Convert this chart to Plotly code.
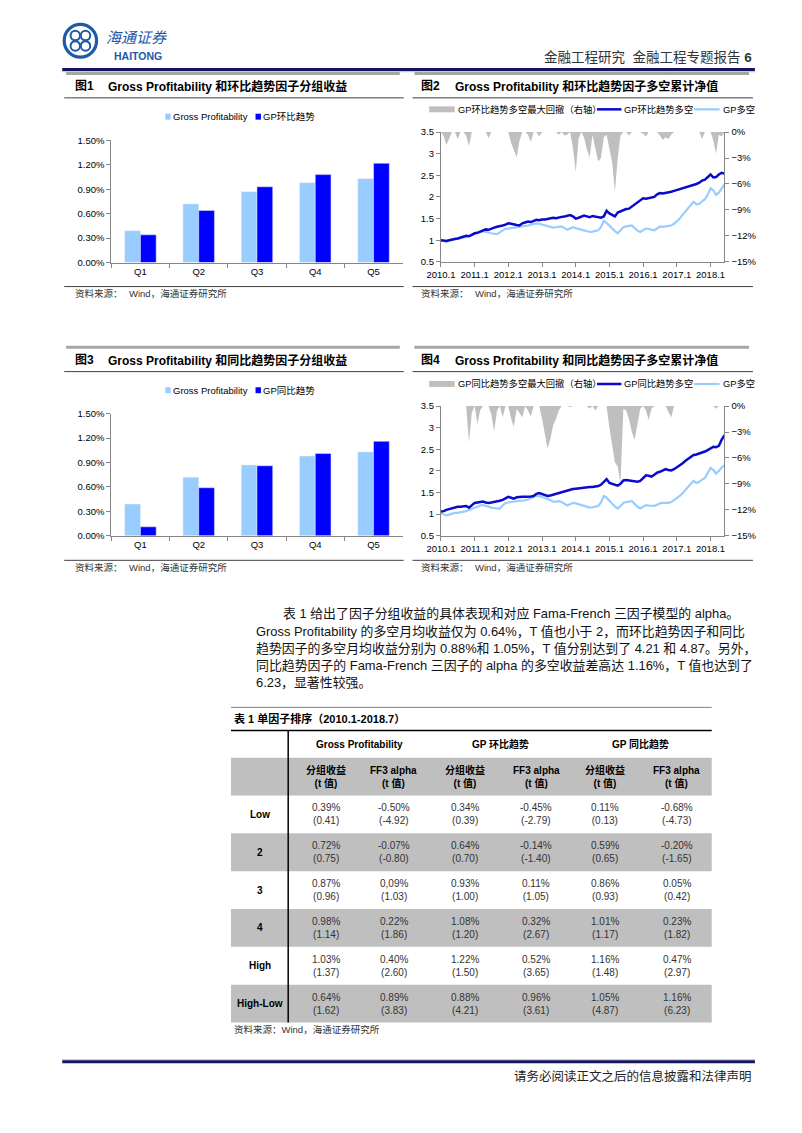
import plotly.graph_objects as go
import pandas as pd

# The page body adds an 8px margin, so the figure is sized to fit the
# 802x1133 window; all positions below are in window pixels.
W, H = 794, 1109
OFF = 8
FONT = "Liberation Sans, Arial, Noto Sans CJK SC, sans-serif"

# ---------------- data ----------------
quintiles = ["Q1", "Q2", "Q3", "Q4", "Q5"]
gp_group = [0.39, 0.72, 0.87, 0.98, 1.03]
hb_group = [0.34, 0.64, 0.93, 1.08, 1.22]   # GP 环比趋势
tb_group = [0.11, 0.59, 0.86, 1.01, 1.16]   # GP 同比趋势

months = pd.date_range("2010-01-01", periods=102, freq="MS")
year_ticks = [f"{y}-01-01" for y in range(2010, 2019)]
year_labels = [f"{y}.1" for y in range(2010, 2019)]

hb_nav = [1.00, 0.99, 0.98, 1.00, 1.02, 1.03, 1.04, 1.06, 1.07, 1.10,
          1.09, 1.13, 1.16, 1.17, 1.19, 1.22, 1.25, 1.24, 1.27, 1.29,
          1.31, 1.32, 1.34, 1.36, 1.39, 1.38, 1.36, 1.35, 1.34, 1.39,
          1.41, 1.43, 1.42, 1.45, 1.47, 1.46, 1.48, 1.48, 1.49, 1.50,
          1.52, 1.51, 1.53, 1.54, 1.55, 1.56, 1.58, 1.55, 1.50, 1.52,
          1.55, 1.57, 1.55, 1.53, 1.56, 1.55, 1.53, 1.52, 1.55, 1.68,
          1.62, 1.58, 1.55, 1.64, 1.67, 1.69, 1.72, 1.73, 1.78, 1.82,
          1.88, 1.93, 1.97, 1.96, 1.97, 1.98, 2.00, 2.06, 2.09, 2.08,
          2.09, 2.10, 2.12, 2.14, 2.16, 2.18, 2.19, 2.21, 2.23, 2.25,
          2.27, 2.30, 2.33, 2.38, 2.40, 2.46, 2.52, 2.45, 2.46, 2.52,
          2.56, 2.54]
gp_nav_a = [1.01, 0.99, 0.97, 0.99, 1.01, 1.03, 1.03, 1.05, 1.06, 1.07,
            1.10, 1.13, 1.15, 1.17, 1.20, 1.21, 1.19, 1.17, 1.16, 1.15,
            1.14, 1.18, 1.23, 1.27, 1.27, 1.28, 1.29, 1.29, 1.30, 1.31,
            1.32, 1.34, 1.36, 1.37, 1.39, 1.38, 1.36, 1.34, 1.32, 1.31,
            1.29, 1.30, 1.31, 1.32, 1.28, 1.24, 1.27, 1.30, 1.28, 1.26,
            1.25, 1.24, 1.22, 1.19, 1.20, 1.22, 1.23, 1.30, 1.45, 1.40,
            1.33, 1.27, 1.21, 1.16, 1.22, 1.30, 1.32, 1.33, 1.34, 1.28,
            1.22, 1.19, 1.23, 1.27, 1.26, 1.24, 1.23, 1.27, 1.32, 1.31,
            1.32, 1.32, 1.34, 1.38, 1.43, 1.50, 1.58, 1.66, 1.74, 1.82,
            1.89, 1.83, 1.84, 1.90, 1.95, 2.05, 2.20, 2.15, 2.05, 2.10,
            2.20, 2.29]
hb_dd = [0, -0.5, -1.5, -0.8, 0, 0, -0.8, 0, 0, -0.4,
         -1.6, 0, 0, 0, 0, 0, 0, -0.7, 0, 0,
         0, 0, 0, 0, 0, -1.3, -2.2, -2.9, -1.0, 0,
         0, -0.3, -1.1, 0, 0, -0.5, 0, 0, 0, 0,
         0, 0, -0.3, 0, -0.4, -0.3, 0, -1.8, -4.6, -0.8,
         0, -0.6, -2.0, -2.9, -0.3, -1.8, -3.4, -3.0, -0.6, -0.3,
         -2.2, -3.6, -6.9, -3.0, -0.4, 0, 0, -0.4, 0, 0,
         0, 0, -0.2, -0.5, 0, 0, 0, 0, -0.4, -0.9,
         -0.6, -0.8, -0.3, 0, 0, 0, 0, 0, 0, 0,
         0, 0, 0, -0.8, 0, 0, 0, -1.0, -2.5, -0.3,
         -0.5, 0]

tb_nav = [1.06, 1.07, 1.10, 1.12, 1.14, 1.16, 1.17, 1.17, 1.18, 1.19,
          1.15, 1.21, 1.26, 1.27, 1.28, 1.29, 1.27, 1.26, 1.27, 1.28,
          1.29, 1.31, 1.33, 1.36, 1.40, 1.38, 1.36, 1.39, 1.40, 1.40,
          1.40, 1.40, 1.41, 1.42, 1.47, 1.49, 1.46, 1.44, 1.42, 1.43,
          1.45, 1.47, 1.49, 1.51, 1.53, 1.55, 1.57, 1.58, 1.59, 1.60,
          1.61, 1.61, 1.62, 1.63, 1.63, 1.64, 1.65, 1.68, 1.75, 1.81,
          1.72, 1.70, 1.68, 1.66, 1.70, 1.78, 1.79, 1.78, 1.76, 1.76,
          1.75, 1.77, 1.84, 1.90, 1.89, 1.87, 1.91, 1.96, 1.98, 2.01,
          2.04, 2.02, 2.01, 2.04, 2.08, 2.12, 2.17, 2.23, 2.28, 2.34,
          2.37, 2.38, 2.40, 2.42, 2.45, 2.48, 2.52, 2.56, 2.55, 2.58,
          2.72, 2.83]
gp_nav_b = [1.02, 0.99, 0.97, 0.99, 1.01, 1.03, 1.03, 1.05, 1.06, 1.07,
            1.10, 1.12, 1.15, 1.17, 1.20, 1.21, 1.19, 1.16, 1.15, 1.14,
            1.13, 1.13, 1.20, 1.26, 1.27, 1.28, 1.30, 1.30, 1.31, 1.31,
            1.32, 1.34, 1.37, 1.40, 1.43, 1.42, 1.40, 1.38, 1.35, 1.32,
            1.29, 1.29, 1.30, 1.28, 1.24, 1.20, 1.23, 1.26, 1.25, 1.23,
            1.21, 1.20, 1.18, 1.15, 1.16, 1.18, 1.19, 1.27, 1.42, 1.38,
            1.30, 1.24, 1.18, 1.13, 1.19, 1.26, 1.28, 1.29, 1.30, 1.24,
            1.17, 1.13, 1.18, 1.21, 1.20, 1.19, 1.19, 1.22, 1.25, 1.26,
            1.26, 1.26, 1.28, 1.32, 1.37, 1.42, 1.48, 1.55, 1.63, 1.70,
            1.77, 1.72, 1.75, 1.80, 1.84, 1.95, 2.07, 2.02, 1.94, 2.00,
            2.08, 2.13]
tb_dd = [0, 0, 0, 0, 0, 0, 0, 0, 0, 0,
         -4.2, -0.8, 0, -2.1, -0.5, 0, 0, 0, -1.0, -2.9,
         -0.5, 0, -1.3, 0, 0, -1.5, -2.4, -0.3, -0.8, -1.3,
         0, -0.5, -1.2, 0, 0, 0, -1.5, -3.5, -4.9, -3.8,
         -2.2, -1.5, -0.5, 0, 0, 0, -0.1, 0, 0, 0,
         0, 0, 0, -0.3, 0, -0.5, 0, 0, 0, 0,
         -2.5, -4.7, -6.5, -7.0, -8.9, -0.3, -0.5, -1.5, -3.0, -3.9,
         -2.0, -0.3, 0, -0.5, -1.6, -0.3, 0, 0, 0, 0,
         0, -0.7, -1.3, 0, 0, 0, 0, 0, 0, 0,
         0, 0, 0, 0, 0, 0, 0, 0, -0.3, 0,
         0, 0]

# table 1
row_labels = ["Low", "2", "3", "4", "High", "High-Low"]
gp_ret = ["0.39%", "0.72%", "0.87%", "0.98%", "1.03%", "0.64%"]
gp_ret_t = ["(0.41)", "(0.75)", "(0.96)", "(1.14)", "(1.37)", "(1.62)"]
gp_ff3 = ["-0.50%", "-0.07%", "0,09%", "0.22%", "0.40%", "0.89%"]
gp_ff3_t = ["(-4.92)", "(-0.80)", "(1.03)", "(1.86)", "(2.60)", "(3.83)"]
hb_ret = ["0.34%", "0.64%", "0.93%", "1.08%", "1.22%", "0.88%"]
hb_ret_t = ["(0.39)", "(0.70)", "(1.00)", "(1.20)", "(1.50)", "(4.21)"]
hb_ff3 = ["-0.45%", "-0.14%", "0.11%", "0.32%", "0.52%", "0.96%"]
hb_ff3_t = ["(-2.79)", "(-1.40)", "(1.05)", "(2.67)", "(3.65)", "(3.61)"]
tb_ret = ["0.11%", "0.59%", "0.86%", "1.01%", "1.16%", "1.05%"]
tb_ret_t = ["(0.13)", "(0.65)", "(0.93)", "(1.17)", "(1.48)", "(4.87)"]
tb_ff3 = ["-0.68%", "-0.20%", "0.05%", "0.23%", "0.47%", "1.16%"]
tb_ff3_t = ["(-4.73)", "(-1.65)", "(0.42)", "(1.82)", "(2.97)", "(6.23)"]
group_heads = ["Gross Profitability", "GP 环比趋势", "GP 同比趋势"]

paragraph = [
    "表 1 给出了因子分组收益的具体表现和对应 Fama-French 三因子模型的 alpha。",
    "Gross Profitability 的多空月均收益仅为 0.64%，T 值也小于 2，而环比趋势因子和同比",
    "趋势因子的多空月均收益分别为 0.88%和 1.05%，T 值分别达到了 4.21 和 4.87。另外，",
    "同比趋势因子的 Fama-French 三因子的 alpha 的多空收益差高达 1.16%，T 值也达到了",
    "6.23，显著性较强。",
]

# ---------------- colours ----------------
LIGHT = "#99CCFF"
DARK_BAR = "#0000FF"
DARK_LINE = "#0A0ACC"
GREY_AREA = "#BFBFBF"
AXIS = "#868686"
NAVY = "#15155E"
LOGO = "#1E5AA8"


def X(px):
    return (px - OFF) / W


def Y(py):
    return 1 - (py - OFF) / H


shapes = []
annotations = []


def line(x0, y0, x1, y1, color, w):
    shapes.append(dict(type="line", xref="paper", yref="paper",
                       x0=X(x0), x1=X(x1), y0=Y(y0), y1=Y(y1),
                       line=dict(color=color, width=w)))


def rect(x0, y0, x1, y1, fill, lc=None, lw=0):
    shapes.append(dict(type="rect", xref="paper", yref="paper",
                       x0=X(x0), x1=X(x1), y0=Y(y1), y1=Y(y0),
                       fillcolor=fill, line=dict(color=lc or fill, width=lw)))


def circle(cx, cy, r, color, w):
    shapes.append(dict(type="circle", xref="paper", yref="paper",
                       x0=X(cx - r), x1=X(cx + r), y0=Y(cy + r), y1=Y(cy - r),
                       line=dict(color=color, width=w)))


def txt(x, y, s, size=10, anchor="left", color="#000000"):
    annotations.append(dict(x=X(x), y=Y(y), xref="paper", yref="paper", text=s,
                            showarrow=False, xanchor=anchor, yanchor="middle",
                            borderpad=0,
                            font=dict(family=FONT, size=size, color=color)))


fig = go.Figure()

# ---------------- bar charts ----------------
fig.add_trace(go.Bar(x=quintiles, y=gp_group, marker_color=LIGHT, xaxis="x", yaxis="y",
                     name="Gross Profitability"))
fig.add_trace(go.Bar(x=quintiles, y=hb_group, marker_color=DARK_BAR, xaxis="x", yaxis="y",
                     name="GP环比趋势"))
fig.add_trace(go.Bar(x=quintiles, y=gp_group, marker_color=LIGHT, xaxis="x2", yaxis="y2",
                     name="Gross Profitability"))
fig.add_trace(go.Bar(x=quintiles, y=tb_group, marker_color=DARK_BAR, xaxis="x2", yaxis="y2",
                     name="GP同比趋势"))

# ---------------- NAV charts ----------------
fig.add_trace(go.Scatter(x=months, y=hb_dd, xaxis="x3", yaxis="y3", mode="lines",
                         fill="tozeroy", fillcolor=GREY_AREA, line=dict(width=0, color=GREY_AREA),
                         name="GP环比趋势多空最大回撤（右轴）"))
fig.add_trace(go.Scatter(x=months, y=gp_nav_a, xaxis="x3", yaxis="y4", mode="lines",
                         line=dict(color=LIGHT, width=2.2), name="GP多空"))
fig.add_trace(go.Scatter(x=months, y=hb_nav, xaxis="x3", yaxis="y4", mode="lines",
                         line=dict(color=DARK_LINE, width=2.5), name="GP环比趋势多空"))

fig.add_trace(go.Scatter(x=months, y=tb_dd, xaxis="x4", yaxis="y5", mode="lines",
                         fill="tozeroy", fillcolor=GREY_AREA, line=dict(width=0, color=GREY_AREA),
                         name="GP同比趋势多空最大回撤（右轴）"))
fig.add_trace(go.Scatter(x=months, y=gp_nav_b, xaxis="x4", yaxis="y6", mode="lines",
                         line=dict(color=LIGHT, width=2.2), name="GP多空"))
fig.add_trace(go.Scatter(x=months, y=tb_nav, xaxis="x4", yaxis="y6", mode="lines",
                         line=dict(color=DARK_LINE, width=2.5), name="GP同比趋势多空"))

tickfont = dict(family=FONT, size=9.5, color="#000000")
common = dict(showline=True, linecolor=AXIS, linewidth=1, ticks="outside", ticklen=4,
              tickcolor=AXIS, showgrid=False, zeroline=False, tickfont=tickfont, fixedrange=True)

bar_x = dict(type="category", tickson="boundaries", **common)
bar_y = dict(range=[0, 1.5], dtick=0.3, tick0=0, tickformat=".2f", ticksuffix="%", **common)

date_x = dict(type="date", range=["2010-01-01", "2018-06-01"], tickvals=year_ticks,
              ticktext=year_labels, **common)
dd_y = dict(range=[-15, 0], tick0=0, dtick=3, ticksuffix="%", side="right", **common)
nav_y = dict(range=[0.5, 3.5], tick0=0.5, dtick=0.5, side="left", **common)

fig.update_layout(
    width=W, height=H, margin=dict(l=0, r=0, t=0, b=0),
    paper_bgcolor="white", plot_bgcolor="white", showlegend=False,
    barmode="group", bargap=0.46, bargroupgap=0,
    xaxis=dict(domain=[X(98), X(395)], anchor="y", **bar_x),
    yaxis=dict(domain=[Y(259), Y(135.7)], anchor="x", **bar_y),
    xaxis2=dict(domain=[X(98), X(395)], anchor="y2", **bar_x),
    yaxis2=dict(domain=[Y(535), Y(411.7)], anchor="x2", **bar_y),
    xaxis3=dict(domain=[X(434), X(723)], anchor="y3", **date_x),
    yaxis3=dict(domain=[Y(258.3), Y(127.3)], anchor="x3", **dd_y),
    yaxis4=dict(domain=[Y(258.3), Y(127.3)], anchor="x3", overlaying="y3", **nav_y),
    xaxis4=dict(domain=[X(434), X(723)], anchor="y5", **date_x),
    yaxis5=dict(domain=[Y(535), Y(404)], anchor="x4", **dd_y),
    yaxis6=dict(domain=[Y(535), Y(404)], anchor="x4", overlaying="y5", **nav_y),
)

# ---------------- page frame & header ----------------
line(800.5, OFF, 800.5, H + OFF, "#8A8A8A", 1)
circle(66.5, 35, 16.5, LOGO, 3.2)
for dx, dy in [(-5.2, -5.2), (5.2, -5.2), (-5.2, 5.2), (5.2, 5.2)]:
    circle(66.5 + dx, 35 + dy, 4.8, LOGO, 2)
txt(92, 32, "<i>海通证券</i>", 15, color=LOGO)
txt(100, 50, "<b>HAITONG</b>", 10.5, color=LOGO)
txt(752, 52, "金融工程研究  金融工程专题报告 <b>6</b>", 13.5, anchor="right", color="#333333")
line(48, 64, 754, 64, NAVY, 3)
line(48, 66.3, 754, 66.3, "#B8B8E0", 1)


# ---------------- chart frames (titles, legends, sources) ----------------
def chart_frame(x0, x1, top, num, title, src_x, src2_x):
    rect(x0 + 2, top - 1.5, x1 - 4, top + 1.5, "#A6A6A6")
    left = x0 + 10 if num in ("1", "3") else x0 + 8
    txt(left, top + 13, f"<b>图{num}</b>", 12)
    txt(left + 34, top + 13, f"<b>{title}</b>", 12)
    line(x0, top + 24.7, x1, top + 24.7, "#404040", 1)
    line(x0, top + 215.3, x1, top + 215.3, "#404040", 1)
    txt(src_x, top + 222.7, "资料来源：", 9.5, color="#333333")
    txt(src2_x, top + 222.7, "Wind，海通证券研究所", 9.5, color="#333333")


chart_frame(50, 396, 68, "1", "Gross Profitability 和环比趋势因子分组收益", 60, 115)
chart_frame(405, 752, 68, "2", "Gross Profitability 和环比趋势因子多空累计净值", 413, 468)
chart_frame(50, 396, 344.5, "3", "Gross Profitability 和同比趋势因子分组收益", 60, 115)
chart_frame(405, 752, 344.5, "4", "Gross Profitability 和同比趋势因子多空累计净值", 413, 468)

# bar legends
for ly, name2 in [(111.7, "GP环比趋势"), (388, "GP同比趋势")]:
    rect(153, ly - 3, 158.5, ly + 3, LIGHT)
    txt(160, ly, "Gross Profitability", 9.5)
    rect(245, ly - 3, 250.5, ly + 3, DARK_BAR)
    txt(252, ly, name2, 9.5)

# line legends
for ly, nm in [(104.3, "环比"), (381.7, "同比")]:
    rect(422, ly - 3, 448, ly + 3, GREY_AREA)
    txt(450, ly, f"GP{nm}趋势多空最大回撤（右轴）", 9.3)
    line(593, ly, 618, ly, DARK_LINE, 2.5)
    txt(619.5, ly, f"GP{nm}趋势多空", 9.3)
    line(692, ly, 718, ly, LIGHT, 2.2)
    txt(720, ly, "GP多空", 9.3)

# ---------------- paragraph ----------------
para_y = [613.3, 631.7, 649.3, 666.5, 683.5]
for i, (s, py) in enumerate(zip(paragraph, para_y)):
    txt(271.5 if i == 0 else 244.3, py, s, 12.9, color="#111111")

# ---------------- table ----------------
TL, TR = 220, 710
line(TL, 708.3, TR, 708.3, "#7F7F7F", 1)
txt(222, 720, "<b>表 1 单因子排序（2010.1-2018.7）</b>", 11)
line(TL, 731.7, TR, 731.7, "#000000", 1.5)
head_x = [351, 494.3, 637.7]
for hx, hs in zip(head_x, group_heads):
    txt(hx, 745.7, f"<b>{hs}</b>", 10, anchor="center")
rect(TL, 759.3, TR, 797.3, GREY_AREA)
col_x = [316.7, 386, 458.3, 531, 601.7, 674.3]
for j, cx in enumerate(col_x):
    top_word = "分组收益" if j % 2 == 0 else "FF3 alpha"
    txt(cx, 778.4, f"<b>{top_word}</b><br><b>(t 值)</b>", 10, anchor="center")

row_top0, row_h = 797.3, 38.23
cols = [(gp_ret, gp_ret_t), (gp_ff3, gp_ff3_t), (hb_ret, hb_ret_t),
        (hb_ff3, hb_ff3_t), (tb_ret, tb_ret_t), (tb_ff3, tb_ff3_t)]
for i, lab in enumerate(row_labels):
    rt = row_top0 + i * row_h
    if i % 2 == 1:
        rect(TL, rt, TR, rt + row_h, GREY_AREA)
    cy = rt + row_h / 2
    txt(249.3, cy, f"<b>{lab}</b>", 10, anchor="center")
    for cx, (vals, tvals) in zip(col_x, cols):
        txt(cx, cy, f"{vals[i]}<br>{tvals[i]}", 10, anchor="center", color="#333333")
line(278.3, 731.7, 278.3, row_top0 + 6 * row_h, "#000000", 1.5)
txt(222, 1033.3, "资料来源：Wind，海通证券研究所", 9.5, color="#333333")

# ---------------- footer ----------------
line(48, 1064.2, 754, 1064.2, "#B8B8E0", 1)
line(48, 1066.3, 754, 1066.3, NAVY, 3)
txt(752, 1081, "请务必阅读正文之后的信息披露和法律声明", 12.5, anchor="right", color="#222222")

fig.update_layout(shapes=shapes, annotations=annotations)
fig.write_html("out.html")
